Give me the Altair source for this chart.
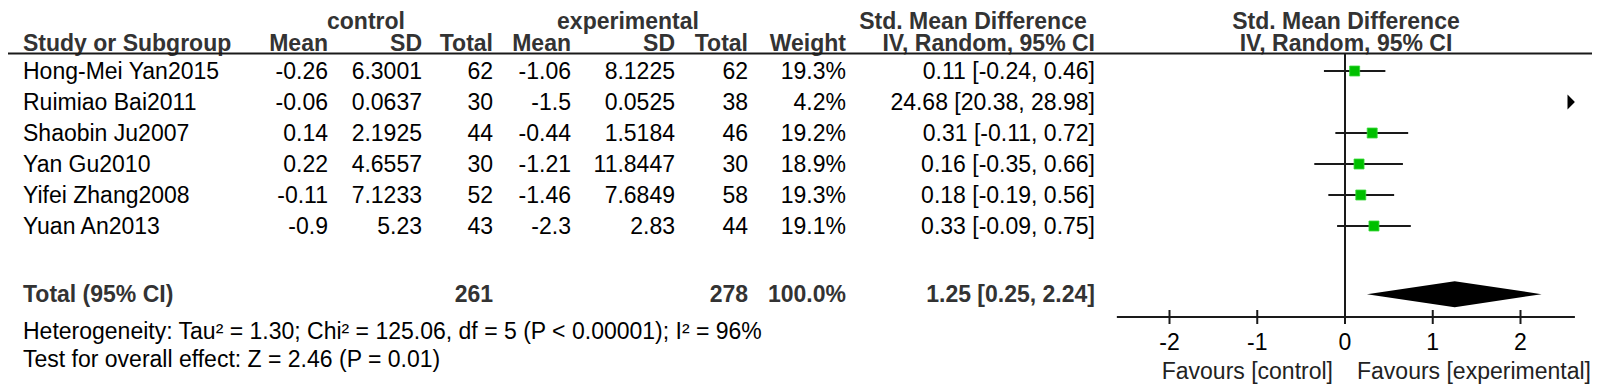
import altair as alt
import pandas as pd

# ---------------- data ----------------
studies = ["Hong-Mei Yan2015", "Ruimiao Bai2011", "Shaobin Ju2007",
           "Yan Gu2010", "Yifei Zhang2008", "Yuan An2013"]
ctrl_mean = [-0.26, -0.06, 0.14, 0.22, -0.11, -0.9]
ctrl_sd = [6.3001, 0.0637, 2.1925, 4.6557, 7.1233, 5.23]
ctrl_n = [62, 30, 44, 30, 52, 43]
exp_mean = [-1.06, -1.5, -0.44, -1.21, -1.46, -2.3]
exp_sd = [8.1225, 0.0525, 1.5184, 11.8447, 7.6849, 2.83]
exp_n = [62, 38, 46, 30, 58, 44]
weight = [19.3, 4.2, 19.2, 18.9, 19.3, 19.1]
smd = [0.11, 24.68, 0.31, 0.16, 0.18, 0.33]
ci_lo = [-0.24, 20.38, -0.11, -0.35, -0.19, -0.09]
ci_hi = [0.46, 28.98, 0.72, 0.66, 0.56, 0.75]

total_label = "Total (95% CI)"
total_ctrl_n = 261
total_exp_n = 278
total_weight = 100.0
pooled = [0.25, 1.25, 2.24]  # lower, estimate, upper
heterogeneity = "Heterogeneity: Tau\u00b2 = 1.30; Chi\u00b2 = 125.06, df = 5 (P < 0.00001); I\u00b2 = 96%"
overall = "Test for overall effect: Z = 2.46 (P = 0.01)"
tick_values = [-2, -1, 0, 1, 2]
favours = ["Favours [control]", "Favours [experimental]"]

# ---------------- layout constants ----------------
W, H = 1584, 378
FONT = "Liberation Sans"
FS = 23
ROW0, ROW_PX = 63, 31          # pixel y of row 0 centre, row spacing
XPX0, UNIT = 1337, 87.75       # pixel x of SMD 0, px per unit
XMIN, XMAX = -2.6, 2.62
AXIS_ROW = (309 - ROW0) / ROW_PX
HEADER_ROW = (45 - ROW0) / ROW_PX
TOTAL_ROW = 7.2
HET_ROW, TEST_ROW = 8.4, 9.3
TXT_DY = 8
HEAD_COL = "#333333"
LINE_COL = "#1a1a1a"

yscale = alt.Scale(domain=[-ROW0 / ROW_PX, (H - ROW0) / ROW_PX], reverse=True,
                   nice=False, zero=False)
xscale = alt.Scale(domain=[-XPX0 / UNIT, (W - XPX0) / UNIT], range=[0, W],
                   nice=False, zero=False)

rows = list(range(len(studies)))
df = pd.DataFrame({
    "row": rows,
    "study": studies,
    "cm": [str(v) for v in ctrl_mean],
    "csd": [str(v) for v in ctrl_sd],
    "cn": [str(v) for v in ctrl_n],
    "em": [str(v) for v in exp_mean],
    "esd": [str(v) for v in exp_sd],
    "en": [str(v) for v in exp_n],
    "w": [f"{v:.1f}%" for v in weight],
    "ci": [f"{m:.2f} [{l:.2f}, {h:.2f}]" for m, l, h in zip(smd, ci_lo, ci_hi)],
    "smd": smd,
    "lo": ci_lo,
    "hi": ci_hi,
})

layers = []

def text_layer(data, field, xpx, align, bold=False, color="black"):
    return alt.Chart(data).mark_text(
        align=align, baseline="alphabetic", dy=TXT_DY, font=FONT, fontSize=FS,
        fontWeight="bold" if bold else "normal", color=color
    ).encode(
        x=alt.value(xpx),
        y=alt.Y("row:Q", scale=yscale, axis=None),
        text=alt.Text(f"{field}:N"),
    )

X_STUDY, X_CM, X_CSD, X_CN = 15, 320, 414, 485
X_EM, X_ESD, X_EN, X_W, X_CI = 563, 667, 740, 838, 1087

cols = [("study", X_STUDY, "left"), ("cm", X_CM, "right"), ("csd", X_CSD, "right"),
        ("cn", X_CN, "right"), ("em", X_EM, "right"), ("esd", X_ESD, "right"),
        ("en", X_EN, "right"), ("w", X_W, "right"), ("ci", X_CI, "right")]
for f, xp, al in cols:
    layers.append(text_layer(df, f, xp, al))

# total row
tot = pd.DataFrame({
    "row": [TOTAL_ROW],
    "label": [total_label],
    "cn": [str(total_ctrl_n)],
    "en": [str(total_exp_n)],
    "w": [f"{total_weight:.1f}%"],
    "ci": [f"{pooled[1]:.2f} [{pooled[0]:.2f}, {pooled[2]:.2f}]"],
})
for f, xp, al in [("label", X_STUDY, "left"), ("cn", X_CN, "right"), ("en", X_EN, "right"),
                  ("w", X_W, "right"), ("ci", X_CI, "right")]:
    layers.append(text_layer(tot, f, xp, al, bold=True, color=HEAD_COL))

# footer text
foot = pd.DataFrame({"row": [HET_ROW, TEST_ROW], "t": [heterogeneity, overall]})
layers.append(text_layer(foot, "t", X_STUDY, "left"))

# headers
def head(txt, xpx, ypx, align):
    return alt.Chart(pd.DataFrame({"t": [txt]})).mark_text(
        align=align, baseline="alphabetic", font=FONT, fontSize=FS,
        fontWeight="bold", color=HEAD_COL
    ).encode(x=alt.value(xpx), y=alt.value(ypx), text="t:N")

H1, H2 = 21, 42.5
layers += [
    head("control", 358, H1, "center"),
    head("experimental", 620, H1, "center"),
    head("Std. Mean Difference", 965, H1, "center"),
    head("Std. Mean Difference", 1338, H1, "center"),
    head("Study or Subgroup", X_STUDY, H2, "left"),
    head("Mean", X_CM, H2, "right"),
    head("SD", X_CSD, H2, "right"),
    head("Total", X_CN, H2, "right"),
    head("Mean", X_EM, H2, "right"),
    head("SD", X_ESD, H2, "right"),
    head("Total", X_EN, H2, "right"),
    head("Weight", X_W, H2, "right"),
    head("IV, Random, 95% CI", X_CI, H2, "right"),
    head("IV, Random, 95% CI", 1338, H2, "center"),
]

# header separator line
layers.append(alt.Chart(pd.DataFrame({"a": [0]})).mark_rule(
    color=LINE_COL, strokeWidth=2).encode(
    x=alt.value(0), x2=alt.value(W), y=alt.value(45.5)))

# zero line
layers.append(alt.Chart(pd.DataFrame({"x": [0], "y0": [HEADER_ROW], "y1": [AXIS_ROW]})).mark_rule(
    color=LINE_COL, strokeWidth=2).encode(
    x=alt.X("x:Q", scale=xscale, axis=None),
    y=alt.Y("y0:Q", scale=yscale, axis=None), y2="y1:Q"))

# x axis line and ticks
layers.append(alt.Chart(pd.DataFrame({"x0": [XMIN], "x1": [XMAX], "y": [AXIS_ROW]})).mark_rule(
    color=LINE_COL, strokeWidth=2).encode(
    x=alt.X("x0:Q", scale=xscale, axis=None), x2="x1:Q",
    y=alt.Y("y:Q", scale=yscale, axis=None)))
tk = pd.DataFrame({"x": tick_values,
                   "y0": [AXIS_ROW - 7 / ROW_PX] * len(tick_values),
                   "y1": [AXIS_ROW + 7 / ROW_PX] * len(tick_values),
                   "y": [AXIS_ROW] * len(tick_values),
                   "lab": [str(v) for v in tick_values]})
layers.append(alt.Chart(tk).mark_rule(color=LINE_COL, strokeWidth=2).encode(
    x=alt.X("x:Q", scale=xscale, axis=None),
    y=alt.Y("y0:Q", scale=yscale, axis=None), y2="y1:Q"))
layers.append(alt.Chart(tk).mark_text(
    align="center", baseline="alphabetic", dy=33, font=FONT, fontSize=FS, color="black"
).encode(x=alt.X("x:Q", scale=xscale, axis=None),
         y=alt.Y("y:Q", scale=yscale, axis=None), text="lab:N"))

# favours labels
fav = pd.DataFrame({"x": [0], "y": [AXIS_ROW], "l": [favours[0]], "r": [favours[1]]})
layers.append(alt.Chart(fav).mark_text(
    align="right", baseline="alphabetic", dx=-12, dy=62, font=FONT, fontSize=FS, color="#222"
).encode(x=alt.X("x:Q", scale=xscale, axis=None),
         y=alt.Y("y:Q", scale=yscale, axis=None), text="l:N"))
layers.append(alt.Chart(fav).mark_text(
    align="left", baseline="alphabetic", dx=12, dy=62, font=FONT, fontSize=FS, color="#222"
).encode(x=alt.X("x:Q", scale=xscale, axis=None),
         y=alt.Y("y:Q", scale=yscale, axis=None), text="r:N"))

# CI whiskers, squares, out-of-range arrows
vis = df[(df["lo"] <= XMAX) & (df["hi"] >= XMIN)].copy()
vis["lo_c"] = vis["lo"].clip(lower=XMIN)
vis["hi_c"] = vis["hi"].clip(upper=XMAX)
off = df[df["lo"] > XMAX].copy()
off["xa"] = XMAX

layers.append(alt.Chart(vis).mark_rule(color=LINE_COL, strokeWidth=2).encode(
    x=alt.X("lo_c:Q", scale=xscale, axis=None), x2="hi_c:Q",
    y=alt.Y("row:Q", scale=yscale, axis=None)))
layers.append(alt.Chart(vis).mark_square(size=100, color="#00C000", opacity=1,
                                         stroke="#3ad93a", strokeWidth=0.8).encode(
    x=alt.X("smd:Q", scale=xscale, axis=None),
    y=alt.Y("row:Q", scale=yscale, axis=None)))
layers.append(alt.Chart(off).mark_point(
    shape="M-1,-1L0,0L-1,1Z", size=220, filled=True, color="black", opacity=1).encode(
    x=alt.X("xa:Q", scale=xscale, axis=None),
    y=alt.Y("row:Q", scale=yscale, axis=None)))

# pooled diamond
HALF = 13 / ROW_PX
dia = pd.DataFrame({"x": pooled,
                    "y": [TOTAL_ROW, TOTAL_ROW - HALF, TOTAL_ROW],
                    "y2": [TOTAL_ROW, TOTAL_ROW + HALF, TOTAL_ROW]})
layers.append(alt.Chart(dia).mark_area(color="black", opacity=1, line=False).encode(
    x=alt.X("x:Q", scale=xscale, axis=None),
    y=alt.Y("y:Q", scale=yscale, axis=None), y2="y2:Q"))

chart = alt.layer(*layers).properties(
    width=W, height=H, autosize=alt.AutoSizeParams(type="none"), padding=0,
    background="white"
).configure_view(stroke=None)

chart.save("out.html", embed_options={"renderer": "svg", "actions": False})
